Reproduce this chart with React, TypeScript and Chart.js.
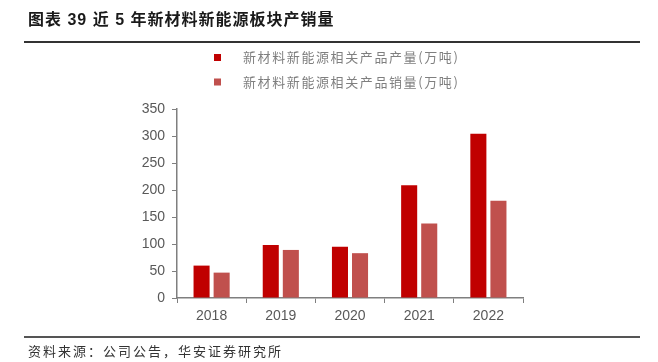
import React, { useEffect, useRef } from "react";
import { Chart, registerables } from "chart.js";

Chart.register(...registerables);

const categories = ["2018", "2019", "2020", "2021", "2022"];
const productionLabel = "新材料新能源相关产品产量(万吨)";
const salesLabel = "新材料新能源相关产品销量(万吨)";
const production = [60, 98, 95, 209, 304];
const sales = [47, 89, 83, 138, 180];
const yTicks = [0, 50, 100, 150, 200, 250, 300, 350];

const legendPlugin = {
  id: "vLegend",
  afterDraw(chart: any) {
    const ctx = chart.ctx;
    ctx.save();
    chart.data.datasets.forEach((ds: any, i: number) => {
      const cy = 57.5 + i * 24.5;
      ctx.fillStyle = ds.backgroundColor;
      ctx.fillRect(214, cy - 3.5, 7, 7);
      ctx.fillStyle = "#7f7f7f";
      ctx.font = "13px 'Noto Sans CJK SC'";
      (ctx as any).letterSpacing = "1.6px";
      ctx.textBaseline = "middle";
      ctx.textAlign = "left";
      ctx.fillText(ds.label, 243, cy);
    });
    ctx.restore();
  },
};

export default function App() {
  const ref = useRef<HTMLCanvasElement | null>(null);
  useEffect(() => {
    if (!ref.current) return;
    const chart = new Chart(ref.current, {
      type: "bar",
      data: {
        labels: categories,
        datasets: [
          {
            label: productionLabel,
            data: production,
            backgroundColor: "#C00000",
            categoryPercentage: 0.58,
            barPercentage: 0.8,
          },
          {
            label: salesLabel,
            data: sales,
            backgroundColor: "#C0504D",
            categoryPercentage: 0.58,
            barPercentage: 0.8,
          },
        ],
      },
      options: {
        animation: false,
        responsive: false,
        layout: { padding: { top: 109, right: 135, left: 0, bottom: 0 } },
        plugins: { legend: { display: false }, tooltip: { enabled: false } },
        scales: {
          x: {
            afterFit: (s: any) => {
              s.height = 64;
            },
            grid: {
              offset: true,
              drawOnChartArea: false,
              drawTicks: true,
              tickLength: 5,
              color: "#7f7f7f",
            },
            border: { display: true, color: "#7f7f7f", width: 1.5 },
            ticks: {
              color: "#595959",
              font: { size: 14, family: "'Liberation Sans', Arial, sans-serif" },
              padding: 5,
            },
          },
          y: {
            min: 0,
            max: 350,
            afterFit: (s: any) => {
              s.width = 177;
            },
            afterBuildTicks: (s: any) => {
              s.ticks = yTicks.map((v) => ({ value: v }));
            },
            grid: {
              drawOnChartArea: false,
              drawTicks: true,
              tickLength: 5,
              color: "#7f7f7f",
            },
            border: { display: true, color: "#7f7f7f", width: 1.5 },
            ticks: {
              color: "#595959",
              font: { size: 14, family: "'Liberation Sans', Arial, sans-serif" },
              padding: 7,
            },
          },
        },
      },
      plugins: [legendPlugin],
    } as any);
    return () => chart.destroy();
  }, []);

  return (
    <div
      style={{
        position: "fixed",
        left: 0,
        top: 0,
        width: 658,
        height: 362,
        background: "#fff",
        overflow: "hidden",
      }}
    >
      <canvas
        ref={ref}
        width={658}
        height={362}
        style={{ position: "absolute", left: 0, top: 0, width: 658, height: 362 }}
      />
      <div
        style={{
          position: "absolute",
          left: 28,
          top: 9,
          fontFamily: "'Liberation Sans', 'Noto Sans CJK SC', sans-serif",
          fontWeight: "bold",
          fontSize: 16,
          letterSpacing: 1,
          color: "#1a1a1a",
          whiteSpace: "nowrap",
          lineHeight: "22px",
        }}
      >
        图表 39 近 5 年新材料新能源板块产销量
      </div>
      <div
        style={{
          position: "absolute",
          left: 24,
          top: 41,
          width: 616,
          height: 2,
          background: "#333",
        }}
      />
      <div
        style={{
          position: "absolute",
          left: 24,
          top: 336,
          width: 616,
          height: 1.5,
          background: "#555",
        }}
      />
      <div
        style={{
          position: "absolute",
          left: 28,
          top: 341,
          fontFamily: "'Noto Sans CJK SC', sans-serif",
          fontSize: 13,
          letterSpacing: 2,
          color: "#333",
          whiteSpace: "nowrap",
          lineHeight: "20px",
        }}
      >
        资料来源：公司公告，华安证券研究所
      </div>
    </div>
  );
}
